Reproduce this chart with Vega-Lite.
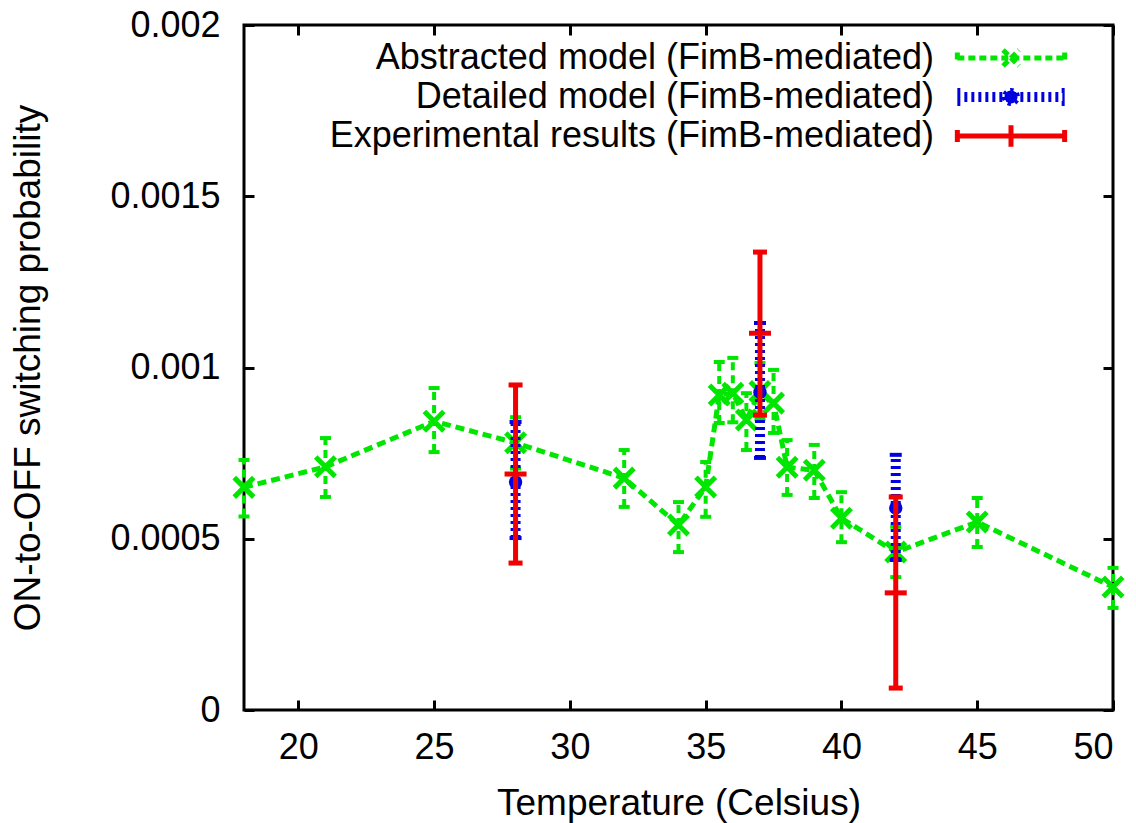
{
  "$schema": "https://vega.github.io/schema/vega-lite/v6.json",
  "width": 869,
  "height": 685,
  "autosize": {"type": "none"},
  "padding": {"left": 244, "top": 25, "right": 23, "bottom": 113},
  "background": "white",
  "config": {
    "font": "Liberation Sans",
    "view": {"stroke": "black", "strokeWidth": 3},
    "axis": {
      "grid": false,
      "domain": false,
      "tickColor": "black",
      "tickWidth": 3,
      "tickSize": -10,
      "labelFont": "Liberation Sans",
      "labelFontSize": 36,
      "labelColor": "black",
      "titleFont": "Liberation Sans",
      "titleFontSize": 37,
      "titleFontWeight": "normal",
      "titleColor": "black"
    },
    "legend": {
      "orient": "none",
      "legendX": 746,
      "legendY": 12,
      "padding": 0,
      "labelFont": "Liberation Sans",
      "labelFontSize": 36,
      "labelColor": "black",
      "labelAlign": "right",
      "labelOffset": -98,
      "labelLimit": 0,
      "symbolSize": 1369,
      "symbolStrokeWidth": 5,
      "symbolOpacity": 1,
      "rowPadding": -3
    }
  },
  "datasets": {
    "pts": [
      {"series": "Abstracted model (FimB-mediated)", "temp": 18, "value": 0.00065, "lo": 0.000565, "hi": 0.00073},
      {"series": "Abstracted model (FimB-mediated)", "temp": 21, "value": 0.00071, "lo": 0.000622, "hi": 0.000794},
      {"series": "Abstracted model (FimB-mediated)", "temp": 25, "value": 0.000843, "lo": 0.000753, "hi": 0.00094},
      {"series": "Abstracted model (FimB-mediated)", "temp": 28, "value": 0.00078, "lo": 0.000705, "hi": 0.000855},
      {"series": "Abstracted model (FimB-mediated)", "temp": 32, "value": 0.000677, "lo": 0.000593, "hi": 0.000759},
      {"series": "Abstracted model (FimB-mediated)", "temp": 34, "value": 0.00054, "lo": 0.000461, "hi": 0.000607},
      {"series": "Abstracted model (FimB-mediated)", "temp": 35, "value": 0.000651, "lo": 0.000564, "hi": 0.000724},
      {"series": "Abstracted model (FimB-mediated)", "temp": 35.5, "value": 0.00092, "lo": 0.000838, "hi": 0.001016},
      {"series": "Abstracted model (FimB-mediated)", "temp": 36, "value": 0.000925, "lo": 0.00084, "hi": 0.001028},
      {"series": "Abstracted model (FimB-mediated)", "temp": 36.5, "value": 0.000847, "lo": 0.000759, "hi": 0.000925},
      {"series": "Abstracted model (FimB-mediated)", "temp": 37, "value": 0.00093, "lo": 0.00085, "hi": 0.001013},
      {"series": "Abstracted model (FimB-mediated)", "temp": 37.5, "value": 0.000896, "lo": 0.000809, "hi": 0.000993},
      {"series": "Abstracted model (FimB-mediated)", "temp": 38, "value": 0.000709, "lo": 0.000628, "hi": 0.000788},
      {"series": "Abstracted model (FimB-mediated)", "temp": 39, "value": 0.0007, "lo": 0.000619, "hi": 0.000774},
      {"series": "Abstracted model (FimB-mediated)", "temp": 40, "value": 0.00056, "lo": 0.00049, "hi": 0.000636},
      {"series": "Abstracted model (FimB-mediated)", "temp": 42, "value": 0.000461, "lo": 0.000388, "hi": 0.000535},
      {"series": "Abstracted model (FimB-mediated)", "temp": 45, "value": 0.000549, "lo": 0.000476, "hi": 0.000619},
      {"series": "Abstracted model (FimB-mediated)", "temp": 50, "value": 0.000359, "lo": 0.000298, "hi": 0.000415},
      {"series": "Detailed model (FimB-mediated)", "temp": 28, "value": 0.000666, "lo": 0.000502, "hi": 0.000841},
      {"series": "Detailed model (FimB-mediated)", "temp": 37, "value": 0.000928, "lo": 0.000736, "hi": 0.00113},
      {"series": "Detailed model (FimB-mediated)", "temp": 42, "value": 0.00059, "lo": 0.000438, "hi": 0.000745},
      {"series": "Experimental results (FimB-mediated)", "temp": 28, "value": 0.000689, "lo": 0.000429, "hi": 0.000949},
      {"series": "Experimental results (FimB-mediated)", "temp": 37, "value": 0.0011, "lo": 0.000861, "hi": 0.001337},
      {"series": "Experimental results (FimB-mediated)", "temp": 42, "value": 0.000342, "lo": 0.000064, "hi": 0.000622}
    ]
  },
  "data": {"name": "pts"},
  "layer": [
    {
      "transform": [{"filter": "datum.series === 'Abstracted model (FimB-mediated)'"}],
      "mark": {"type": "line", "color": "#00e600", "strokeWidth": 5, "strokeDash": [9, 5]},
      "encoding": {
        "x": {"field": "temp", "type": "quantitative", "scale": {"domain": [18, 50], "nice": false, "zero": false},
          "axis": {"orient": "bottom", "values": [20, 25, 30, 35, 40, 45, 50], "title": "Temperature (Celsius)", "labelPadding": 30, "titlePadding": 20}},
        "y": {"field": "value", "type": "quantitative", "scale": {"domain": [0, 0.002], "nice": false, "zero": true},
          "axis": {"orient": "left", "values": [0, 0.0005, 0.001, 0.0015, 0.002], "format": "~g", "title": "ON-to-OFF switching probability", "labelPadding": 34, "titlePadding": 62}}
      }
    },
    {
      "transform": [{"filter": "datum.series === 'Abstracted model (FimB-mediated)'"}],
      "mark": {"type": "rule", "color": "#00e600", "strokeWidth": 4, "strokeDash": [8, 5]},
      "encoding": {
        "x": {"field": "temp", "type": "quantitative", "axis": null},
        "y": {"field": "lo", "type": "quantitative", "axis": null},
        "y2": {"field": "hi"}
      }
    },
    {
      "transform": [{"filter": "datum.series === 'Abstracted model (FimB-mediated)'"}, {"fold": ["lo", "hi"], "as": ["bound", "yv"]}],
      "mark": {"type": "tick", "orient": "horizontal", "color": "#00e600", "size": 11, "thickness": 4, "opacity": 1},
      "encoding": {
        "x": {"field": "temp", "type": "quantitative", "axis": null},
        "y": {"field": "yv", "type": "quantitative", "axis": null}
      }
    },
    {
      "transform": [{"filter": "datum.series === 'Abstracted model (FimB-mediated)'"}],
      "mark": {"type": "point", "shape": "M-1,-1L1,1M-1,1L1,-1", "filled": false, "color": "#00e600", "strokeWidth": 5, "size": 380, "opacity": 1},
      "encoding": {
        "x": {"field": "temp", "type": "quantitative", "axis": null},
        "y": {"field": "value", "type": "quantitative", "axis": null}
      }
    },
    {
      "transform": [{"filter": "datum.series === 'Detailed model (FimB-mediated)'"}],
      "mark": {"type": "rule", "color": "#0000e0", "strokeWidth": 10, "strokeDash": [3, 4]},
      "encoding": {
        "x": {"field": "temp", "type": "quantitative", "axis": null},
        "y": {"field": "lo", "type": "quantitative", "axis": null},
        "y2": {"field": "hi"}
      }
    },
    {
      "transform": [{"filter": "datum.series === 'Detailed model (FimB-mediated)'"}, {"fold": ["lo", "hi"], "as": ["bound", "yv"]}],
      "mark": {"type": "tick", "orient": "horizontal", "color": "#0000e0", "size": 12, "thickness": 4, "opacity": 1},
      "encoding": {
        "x": {"field": "temp", "type": "quantitative", "axis": null},
        "y": {"field": "yv", "type": "quantitative", "axis": null}
      }
    },
    {
      "transform": [{"filter": "datum.series === 'Detailed model (FimB-mediated)'"}],
      "mark": {"type": "point", "shape": "circle", "filled": true, "color": "#0000e0", "size": 180, "opacity": 1},
      "encoding": {
        "x": {"field": "temp", "type": "quantitative", "axis": null},
        "y": {"field": "value", "type": "quantitative", "axis": null}
      }
    },
    {
      "transform": [{"filter": "datum.series === 'Experimental results (FimB-mediated)'"}],
      "mark": {"type": "rule", "color": "#f00000", "strokeWidth": 5},
      "encoding": {
        "x": {"field": "temp", "type": "quantitative", "axis": null},
        "y": {"field": "lo", "type": "quantitative", "axis": null},
        "y2": {"field": "hi"}
      }
    },
    {
      "transform": [{"filter": "datum.series === 'Experimental results (FimB-mediated)'"}, {"fold": ["lo", "hi"], "as": ["bound", "yv"]}],
      "mark": {"type": "tick", "orient": "horizontal", "color": "#f00000", "size": 14, "thickness": 5, "opacity": 1},
      "encoding": {
        "x": {"field": "temp", "type": "quantitative", "axis": null},
        "y": {"field": "yv", "type": "quantitative", "axis": null}
      }
    },
    {
      "transform": [{"filter": "datum.series === 'Experimental results (FimB-mediated)'"}],
      "mark": {"type": "tick", "orient": "horizontal", "color": "#f00000", "size": 22, "thickness": 5, "opacity": 1},
      "encoding": {
        "x": {"field": "temp", "type": "quantitative", "axis": null},
        "y": {"field": "value", "type": "quantitative", "axis": null}
      }
    },
    {
      "transform": [{"filter": "false"}],
      "mark": {"type": "point", "filled": true, "opacity": 1, "strokeWidth": 5},
      "encoding": {
        "x": {"field": "temp", "type": "quantitative",
          "axis": {"orient": "top", "values": [20, 25, 30, 35, 40, 45, 50], "labels": false, "title": null}},
        "y": {"field": "value", "type": "quantitative",
          "axis": {"orient": "right", "values": [0, 0.0005, 0.001, 0.0015, 0.002], "labels": false, "title": null}},
        "fill": {"field": "series", "type": "nominal", "title": null,
          "scale": {"domain": ["Abstracted model (FimB-mediated)", "Detailed model (FimB-mediated)", "Experimental results (FimB-mediated)"], "range": ["#00e600", "#0000e0", "#f00000"]}},
        "stroke": {"field": "series", "type": "nominal", "title": null,
          "scale": {"domain": ["Abstracted model (FimB-mediated)", "Detailed model (FimB-mediated)", "Experimental results (FimB-mediated)"], "range": ["#00e600", "#0000e0", "#f00000"]}},
        "shape": {"field": "series", "type": "nominal", "title": null,
          "scale": {"domain": ["Abstracted model (FimB-mediated)", "Detailed model (FimB-mediated)", "Experimental results (FimB-mediated)"],
            "range": [
              "M-2.9,0L2.9,0M-2.9,-0.3L-2.9,0.3M2.9,-0.3L2.9,0.3M-0.43,-0.43L0.43,0.43M-0.43,0.43L0.43,-0.43",
              "M-2.9,-0.14L2.9,-0.14M-2.9,0.14L2.9,0.14M-2.9,-0.35L-2.6,-0.35M-2.9,0.35L-2.6,0.35M2.9,-0.35L2.6,-0.35M2.9,0.35L2.6,0.35M-0.35,0A0.35,0.35,0,1,0,0.35,0A0.35,0.35,0,1,0,-0.35,0",
              "M-2.9,0L2.9,0M-2.9,-0.32L-2.9,0.32M2.9,-0.32L2.9,0.32M0,-0.58L0,0.58"
            ]}},
        "strokeDash": {"field": "series", "type": "nominal", "title": null,
          "scale": {"domain": ["Abstracted model (FimB-mediated)", "Detailed model (FimB-mediated)", "Experimental results (FimB-mediated)"], "range": [[7, 4], [3, 4], [1, 0]]}}
      }
    }
  ],
  "resolve": {"axis": {"x": "independent", "y": "independent"}}
}
